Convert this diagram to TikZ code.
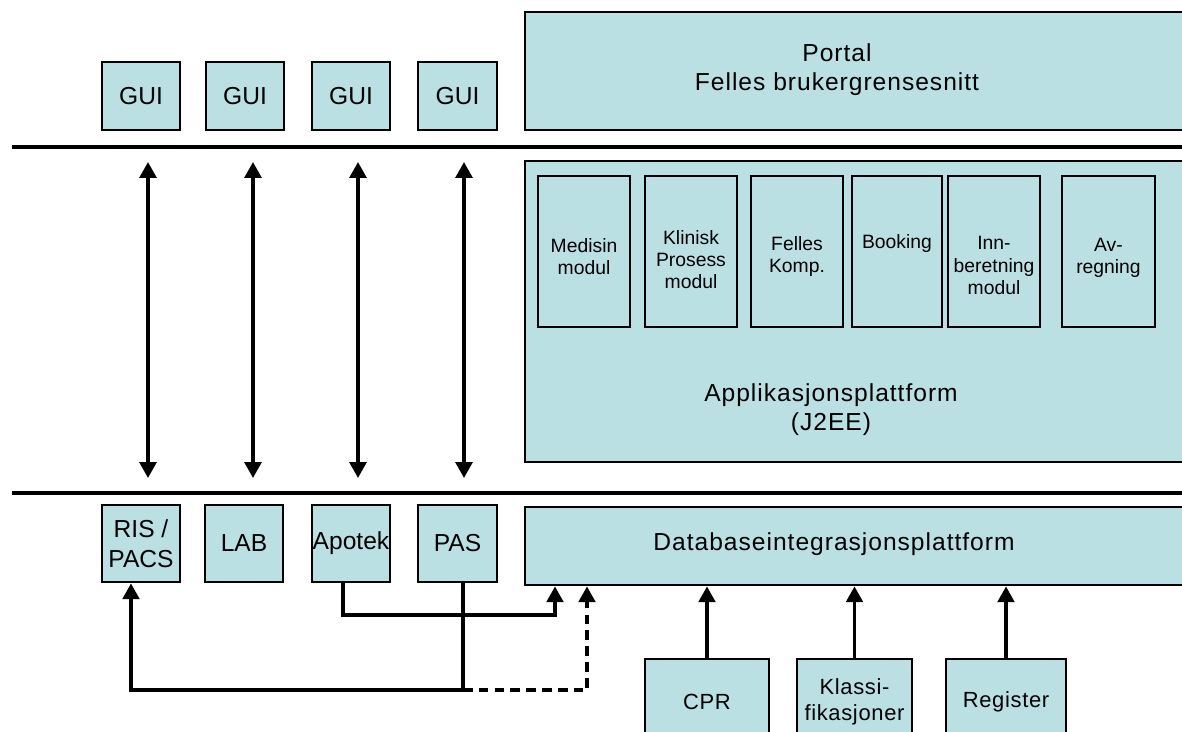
\documentclass[tikz,border=0pt]{standalone}
\usepackage{fontspec}
\setmainfont{Liberation Sans}
\usetikzlibrary{arrows.meta}
\definecolor{boxfill}{HTML}{BBE0E3}

\begin{document}
\begin{tikzpicture}[x=0.02cm,y=-0.02cm,
  big/.style={font=\fontsize{14}{17}\selectfont},
  wide/.style={font=\fontsize{14}{16.5}\selectfont\addfontfeatures{LetterSpace=4}},
  small/.style={font=\fontsize{11}{12.4}\selectfont},
  mid/.style={font=\fontsize{12.5}{14.5}\selectfont\addfontfeatures{LetterSpace=3}},
  box/.style={draw=black, line width=1.6pt, fill=boxfill, inner sep=0pt, align=center, big},
  % rectangle given by its corners (x1,y1) and (x2,y2)
  rect/.style n args={4}{minimum width={(#3-#1)*0.02cm}, minimum height={(#4-#2)*0.02cm},
    at={({(#1+#3)/2},{(#2+#4)/2})}},
  txt/.style={inner sep=0pt, align=center},
  conn/.style={line width=1.9pt, -{Triangle[width=9.5pt,length=9pt]}},
  biconn/.style={line width=1.9pt, {Triangle[width=9.5pt,length=9pt]}-{Triangle[width=9.5pt,length=9pt]}},
  dashconn/.style={conn, dash pattern=on 5.5pt off 3.5pt},
  sep/.style={line width=2.3pt}]

\useasboundingbox (0,0) rectangle (1182,731);

% --- presentation layer ---
\node[box, rect={525}{12}{1200}{130}] (portal) {};
\node[txt, wide] (portaltxt) at (837,70) {Portal\\Felles brukergrensesnitt};
\node[box, rect={102}{62}{180}{130}] (gui1) {GUI};
\node[box, rect={206}{62}{284}{130}] (gui2) {GUI};
\node[box, rect={312}{62}{390}{130}] (gui3) {GUI};
\node[box, rect={418}{62}{497}{130}] (gui4) {GUI};

\draw[sep] (12,147) -- (1190,147);

% --- application layer ---
\node[box, rect={525}{161}{1200}{462}] (app) {};
\node[txt, wide] (apptxt) at (831,410) {Applikasjonsplattform\\(J2EE)};

\node[box, rect={538}{176}{630}{327}] (med) {};
\node[box, rect={645}{176}{737}{327}] (kli) {};
\node[box, rect={751}{176}{843}{327}] (fel) {};
\node[box, rect={852}{176}{942}{327}] (boo) {};
\node[box, rect={948}{176}{1040}{327}] (inn) {};
\node[box, rect={1062}{176}{1155}{327}] (avr) {};

\node[txt, small] (medtxt) at ([yshift=-0.1cm]med.center) {Medisin\\modul};
\node[txt, small] (klitxt) at ([yshift=-0.16cm]kli.center) {Klinisk\\Prosess\\modul};
\node[txt, small] (feltxt) at ([yshift=-0.1cm]fel.center) {Felles\\Komp.};
\node[txt, small] (bootxt) at ([yshift=0.16cm]boo.center) {Booking};
\node[txt, small, font=\fontsize{11}{13}\selectfont] (inntxt) at ([yshift=-0.28cm]inn.center) {Inn-\\beretning\\modul};
\node[txt, small] (avrtxt) at ([yshift=-0.12cm]avr.center) {Av-\\regning};

% end points of the vertical links between the layers
\foreach \i/\x in {1/148, 2/253, 3/358, 4/464} {
  \coordinate (up\i) at (\x,162);
  \coordinate (dn\i) at (\x,478);
  \draw[biconn] (up\i) -- (dn\i);
}

\draw[sep] (12,493) -- (1190,493);

% --- data layer ---
\node[box, rect={102}{505}{180}{582}] (ris) {RIS /\\PACS};
\node[box, rect={205}{505}{283}{582}] (lab) {LAB};
\node[box, rect={312}{505}{390}{582}] (apo) {Apotek};
\node[box, rect={418}{505}{497}{582}] (pas) {PAS};
\node[box, rect={525}{507}{1200}{585}] (db) {};
\node[txt, wide] (dbtxt) at (834,544) {Databaseintegrasjonsplattform};

\node[box, mid, rect={645}{659}{769}{745}] (cpr) {CPR};
\node[box, mid, rect={797}{659}{912}{745}] (kla) {Klassi-\\fikasjoner};
\node[box, mid, rect={946}{659}{1066}{745}] (reg) {Register};

% bends of the data links
\coordinate (a1) at (343,615);
\coordinate (a2) at (555,615);
\coordinate (p1) at (463,690);
\coordinate (r1) at (131,690);
\coordinate (d1) at (587,690);

\draw[conn] (apo.south -| a1) -- (a1) -- (a2) -- (db.south -| a2);
\draw[conn] (pas.south -| p1) -- (p1) -- (r1) -- (ris.south -| r1);
\draw[dashconn] (p1) -- (d1) -- (db.south -| d1);

\draw[conn] (cpr.north) -- (cpr.north |- db.south);
\draw[conn] (kla.north) -- (kla.north |- db.south);
\draw[conn] (reg.north) -- (reg.north |- db.south);

\end{tikzpicture}
\end{document}
